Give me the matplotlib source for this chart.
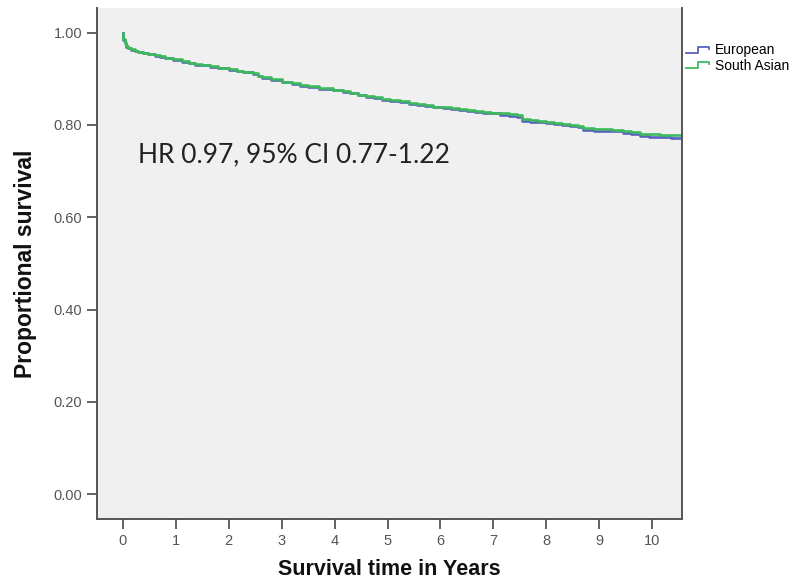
import matplotlib
matplotlib.use("Agg")
import matplotlib.pyplot as plt
from matplotlib.lines import Line2D
from matplotlib.legend_handler import HandlerLine2D

# ---- data (Kaplan-Meier steps)
time_years = [0, 0.01, 0.03, 0.06, 0.1, 0.15, 0.22, 0.28, 0.37, 0.47,
              0.6, 0.7, 0.79, 0.95, 1.12, 1.25, 1.36, 1.5, 1.64, 1.8,
              2.0, 2.15, 2.27, 2.45, 2.55, 2.62, 2.8, 3.0, 3.2, 3.35,
              3.5, 3.7, 3.97, 4.15, 4.3, 4.45, 4.6, 4.75, 4.9, 5.05,
              5.24, 5.4, 5.55, 5.7, 5.86, 6.05, 6.2, 6.35, 6.5, 6.65,
              6.8, 6.95, 7.13, 7.3, 7.45, 7.54, 7.7, 7.85, 8.0, 8.15,
              8.3, 8.45, 8.6, 8.7, 8.9, 9.07, 9.25, 9.45, 9.6, 9.77,
              9.95, 10.15, 10.35, 10.57]

surv_eur = [1.0, 0.985, 0.977, 0.970, 0.966, 0.963, 0.960, 0.958, 0.956, 0.953,
            0.950, 0.948, 0.945, 0.941, 0.937, 0.934, 0.931, 0.929, 0.926, 0.923,
            0.920, 0.917, 0.914, 0.911, 0.906, 0.902, 0.898, 0.893, 0.889, 0.885,
            0.883, 0.879, 0.875, 0.872, 0.869, 0.865, 0.861, 0.858, 0.855, 0.852,
            0.849, 0.846, 0.843, 0.841, 0.838, 0.836, 0.834, 0.833, 0.831, 0.829,
            0.827, 0.825, 0.822, 0.820, 0.818, 0.809, 0.807, 0.806, 0.804, 0.802,
            0.800, 0.798, 0.795, 0.789, 0.788, 0.787, 0.786, 0.782, 0.781, 0.776,
            0.775, 0.773, 0.772, 0.772]

surv_sa = [1.0, 0.986, 0.978, 0.971, 0.967, 0.964, 0.961, 0.959, 0.957, 0.954,
           0.951, 0.949, 0.946, 0.942, 0.938, 0.935, 0.932, 0.930, 0.927, 0.924,
           0.921, 0.918, 0.915, 0.912, 0.907, 0.903, 0.899, 0.894, 0.890, 0.886,
           0.884, 0.880, 0.876, 0.873, 0.870, 0.866, 0.863, 0.860, 0.857, 0.854,
           0.851, 0.848, 0.845, 0.843, 0.840, 0.838, 0.836, 0.835, 0.833, 0.831,
           0.829, 0.827, 0.825, 0.823, 0.821, 0.812, 0.810, 0.809, 0.807, 0.805,
           0.803, 0.801, 0.798, 0.793, 0.792, 0.791, 0.790, 0.786, 0.785, 0.781,
           0.780, 0.779, 0.778, 0.778]

groups = ["European", "South Asian"]
colours = ["#5a60c0", "#3dba5c"]
x_ticks = list(range(0, 11))
y_ticks = [0.0, 0.2, 0.4, 0.6, 0.8, 1.0]
hr_text = "HR 0.97, 95% CI 0.77-1.22"


class StepHandler(HandlerLine2D):
    # SPSS style legend key: a little step instead of a flat line
    def create_artists(self, legend, orig_handle, xdescent, ydescent, width, height, fontsize, trans):
        y0 = height * 0.2 - ydescent
        y1 = height * 0.8 - ydescent
        xs = [-xdescent, -xdescent + width * 0.45, -xdescent + width * 0.45,
              -xdescent + width * 0.85, -xdescent + width * 0.85]
        ys = [y0, y0, y1, y1, y0 + (y1 - y0) * 0.6]
        ln = Line2D(xs, ys, color=orig_handle.get_color(), lw=1.3, transform=trans)
        return [ln]


fig = plt.figure(figsize=(8.05, 5.81), dpi=100)
ax = fig.add_axes([0.1205, 0.1066, 0.727, 0.88])
ax.set_facecolor("#f0f0f0")

lines = []
for s, c, g in zip([surv_eur, surv_sa], colours, groups):
    ln, = ax.plot(time_years, s, drawstyle="steps-post", color=c, lw=1.9, label=g)
    lines.append(ln)

ax.set_xlim(-0.49, 10.57)
ax.set_ylim(-0.054, 1.054)
ax.set_xticks(x_ticks)
ax.set_yticks(y_ticks)
ax.set_yticklabels(["%.2f" % v for v in y_ticks])

ax.spines["top"].set_visible(False)
for side in ["left", "bottom", "right"]:
    ax.spines[side].set_color("#555555")
    ax.spines[side].set_linewidth(1.4)

ax.tick_params(axis="both", direction="out", length=7, width=1.3, color="#555555",
               labelcolor="#555555", labelsize=10.5)
for lab in ax.get_xticklabels() + ax.get_yticklabels():
    lab.set_family("Liberation Sans")

ax.set_xlabel("Survival time in Years", fontsize=15.5, fontweight="bold",
              family="Liberation Sans", color="#111111", labelpad=8)
ax.set_ylabel("Proportional survival", fontsize=16.5, fontweight="bold",
              family="Liberation Sans", color="#111111", labelpad=12)

ax.text(0.28, 0.735, hr_text, fontsize=19, family="Lato", color="#222222", va="center")

leg = fig.legend(lines, groups, loc="upper left", bbox_to_anchor=(0.849, 0.93),
                 frameon=False, handlelength=1.9, handletextpad=0.15,
                 labelspacing=0.1, borderaxespad=0, borderpad=0.2,
                 handler_map={Line2D: StepHandler()},
                 prop={"family": "Liberation Sans", "size": 10})

fig.savefig("out.png", dpi=100)
